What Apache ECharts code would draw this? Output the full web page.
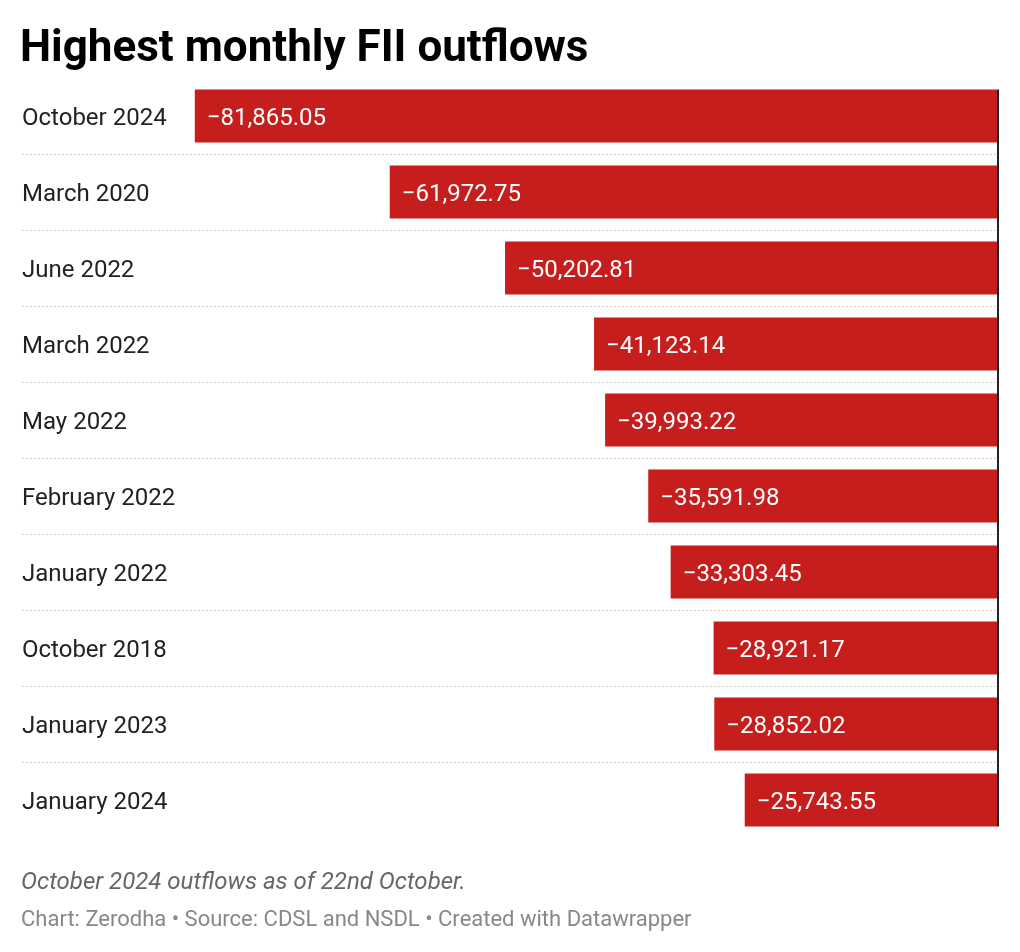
<!DOCTYPE html>
<html>
<head>
<meta charset="utf-8">
<title>Highest monthly FII outflows</title>
<script src="https://cdn.jsdelivr.net/npm/echarts@6/dist/echarts.min.js"></script>
<style>
  html, body { margin: 0; padding: 0; background: #fff; }
  #chart { width: 1020px; height: 952px; }
</style>
</head>
<body>
<div id="chart"></div>
<script>
// data
const months = [
  'October 2024', 'March 2020', 'June 2022', 'March 2022', 'May 2022',
  'February 2022', 'January 2022', 'October 2018', 'January 2023', 'January 2024'
];
const outflows = [
  -81865.05, -61972.75, -50202.81, -41123.14, -39993.22,
  -35591.98, -33303.45, -28921.17, -28852.02, -25743.55
];
const titleText = 'Highest monthly FII outflows';
const noteText = 'October 2024 outflows as of 22nd October.';
const sourceText = 'Chart: Zerodha \u2022 Source: CDSL and NSDL \u2022 Created with Datawrapper';

const FONT = 'Roboto, "Noto Sans", sans-serif';

// -81865.05 -> "−81,865.05"
function fmt(v) {
  const parts = Math.abs(v).toFixed(2).split('.');
  const int = parts[0].replace(/\B(?=(\d{3})+(?!\d))/g, ',');
  return (v < 0 ? '\u2212' : '') + int + '.' + parts[1];
}

const chart = echarts.init(document.getElementById('chart'));

const option = {
  animation: false,
  backgroundColor: '#fff',
  title: [
    {
      text: titleText,
      left: 20,
      top: 28,
      padding: 0,
      textStyle: { fontFamily: FONT, fontSize: 44, fontWeight: 'bold', color: '#000' }
    },
    {
      text: noteText,
      left: 21,
      top: 871,
      padding: 0,
      textStyle: { fontFamily: FONT, fontSize: 24, fontStyle: 'italic', fontWeight: 'normal', color: '#666' }
    },
    {
      text: sourceText,
      left: 21,
      top: 909,
      padding: 0,
      textStyle: { fontFamily: FONT, fontSize: 22, fontWeight: 'normal', color: '#888' }
    }
  ],
  grid: { left: 22, right: 23, top: 78, bottom: 114, containLabel: false },
  xAxis: {
    type: 'value',
    min: -99500,
    max: 0,
    show: false
  },
  yAxis: {
    type: 'category',
    data: months,
    inverse: true,
    axisLine: { show: false },
    axisTick: { show: false },
    axisLabel: {
      inside: true,
      margin: 0,
      fontFamily: FONT,
      fontSize: 24,
      color: '#222',
      // nudge text ~3px below the band centre, as in the reference
      verticalAlign: 'top',
      lineHeight: 6
    },
    splitLine: {
      show: true,
      showMinLine: false,
      showMaxLine: false,
      lineStyle: { type: [2, 2], color: '#ccc', width: 1 }
    }
  },
  series: [
    {
      type: 'bar',
      data: outflows,
      barCategoryGap: '30%',
      itemStyle: { color: '#c61d1d' },
      label: {
        show: true,
        position: 'insideLeft',
        distance: 12,
        offset: [0, 3],
        fontFamily: FONT,
        fontSize: 24,
        color: '#fff',
        formatter: p => fmt(p.value)
      }
    },
    {
      // dark zero line, from top of first bar to bottom of last bar
      type: 'custom',
      silent: true,
      z: 5,
      data: [[0, 0]],
      renderItem: function (params, api) {
        const top = api.coord([0, 0]);
        const bottom = api.coord([0, months.length - 1]);
        const half = api.size([0, 1])[1] * 0.35;
        return {
          type: 'line',
          shape: { x1: top[0] + 1, y1: top[1] - half, x2: bottom[0] + 1, y2: bottom[1] + half },
          style: { stroke: '#222', lineWidth: 2 }
        };
      }
    }
  ]
};

chart.setOption(option);
</script>
</body>
</html>
